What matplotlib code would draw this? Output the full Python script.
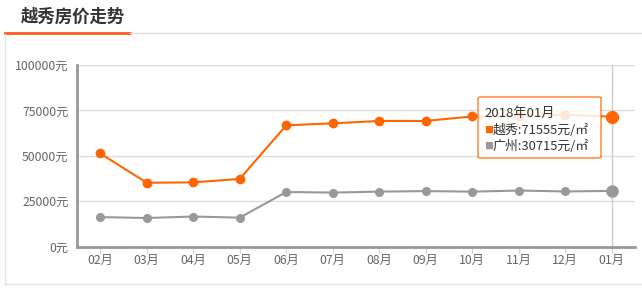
import matplotlib.pyplot as plt
from matplotlib.patches import FancyBboxPatch
from matplotlib.lines import Line2D

plt.rcParams['font.family'] = ['Noto Sans CJK SC', 'DejaVu Sans']

months = ["02月", "03月", "04月", "05月", "06月", "07月", "08月", "09月", "10月", "11月", "12月", "01月"]
yuexiu = [51300, 35200, 35400, 37300, 66800, 67900, 69200, 69200, 71700, 72000, 72600, 71555]
guangzhou = [16300, 15800, 16600, 16000, 30100, 29800, 30300, 30600, 30300, 30900, 30400, 30715]
yticks = [0, 25000, 50000, 75000, 100000]
title = "越秀房价走势"
tip_title = "2018年01月"
tip_names = ["越秀", "广州"]

ORANGE = "#ff6600"
GRAY = "#999999"

fig = plt.figure(figsize=(6.42, 2.9), dpi=100)
W, H = 642, 290

def fx(px):
    return px / W

def fy(py):
    return 1 - py / H

# header and outer frame
fig.text(fx(21), fy(17), title, fontsize=12.5, fontweight="bold", color="#333333", va="center", ha="left")
fig.add_artist(Line2D([fx(5), fx(130)], [fy(33), fy(33)], color="#ff5a1f", lw=2))
fig.add_artist(Line2D([fx(130), 1], [fy(33), fy(33)], color="#dddddd", lw=1))
fig.add_artist(Line2D([fx(4.5), fx(4.5)], [fy(34), fy(284)], color="#e5e5e5", lw=1))
fig.add_artist(Line2D([fx(4.5), 1], [fy(284), fy(284)], color="#e5e5e5", lw=1))

ax = fig.add_axes([fx(77), fy(246.7), fx(635) - fx(77), fy(65) - fy(246.7)])
x = list(range(len(months)))

ax.plot(x, guangzhou, color=GRAY, lw=1.5, marker="o", ms=5.5, zorder=3)
ax.plot(x, yuexiu, color=ORANGE, lw=1.5, marker="o", ms=6, zorder=3)
# highlighted last point
ax.plot(x[-1], yuexiu[-1], "o", color=ORANGE, ms=8.5, zorder=4)
ax.plot(x[-1], guangzhou[-1], "o", color=GRAY, ms=8, zorder=4)
ax.axvline(x[-1], color="#cccccc", lw=1, zorder=1)

ax.set_xlim(-0.5, len(months) - 0.5)
ax.set_ylim(0, 100000)
ax.set_yticks(yticks)
ax.set_yticklabels([f"{v}元" for v in yticks])
ax.set_xticks(x)
ax.set_xticklabels(months)
ax.grid(axis="y", color="#dddddd", lw=1)
ax.set_axisbelow(True)
for s in ["top", "right"]:
    ax.spines[s].set_visible(False)
for s in ["left", "bottom"]:
    ax.spines[s].set_color("#999999")
    ax.spines[s].set_linewidth(2)
ax.tick_params(axis="y", length=0, labelsize=8.8, labelcolor="#666666", pad=6)
ax.tick_params(axis="x", length=4, color="#c8d4e0", labelsize=8.8, labelcolor="#666666", pad=1)

# tooltip
x0, x1 = (478 - 77) / 558, (601 - 77) / 558
y0, y1 = (246.7 - 158) / 181.7, (246.7 - 97) / 181.7
box = FancyBboxPatch((x0, y0), x1 - x0, y1 - y0, boxstyle="round,pad=0,rounding_size=0.006",
                     transform=ax.transAxes, facecolor="white", edgecolor=ORANGE, lw=1,
                     alpha=0.85, zorder=5)
ax.add_patch(box)
tx = (484 - 77) / 558
ax.text(tx, (246.7 - 113) / 181.7, tip_title, transform=ax.transAxes, fontsize=9.5,
        color="#333333", va="center", ha="left", zorder=6)
for i, (name, vals, col) in enumerate([(tip_names[0], yuexiu, ORANGE), (tip_names[1], guangzhou, GRAY)]):
    yy = (246.7 - (130 + i * 16.5)) / 181.7
    ax.text(tx, yy, "■", transform=ax.transAxes, fontsize=6.5, color=col, va="center", ha="left", zorder=6)
    ax.text(tx + 0.015, yy, f"{name}:{vals[-1]}元/㎡", transform=ax.transAxes, fontsize=9.3,
            color="#333333", va="center", ha="left", zorder=6)

fig.savefig("out.png", dpi=100)
